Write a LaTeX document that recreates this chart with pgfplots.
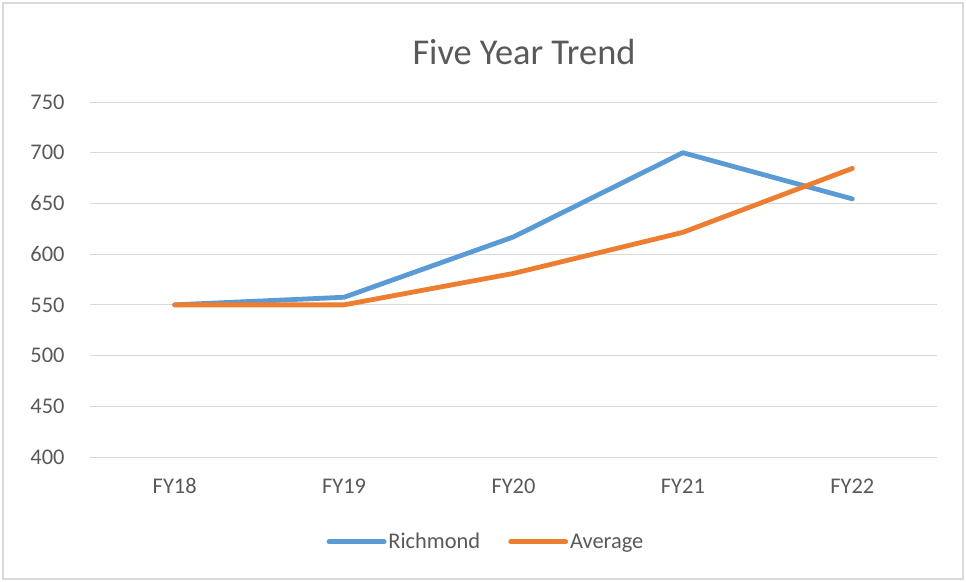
\documentclass[border=0pt]{standalone}
\usepackage{pgfplots}
\pgfplotsset{compat=1.18}
\usepackage{fontspec}
\setmainfont{Carlito}
\definecolor{txt}{HTML}{595959}
\definecolor{gridc}{HTML}{D9D9D9}
\definecolor{rich}{HTML}{5B9BD5}
\definecolor{avg}{HTML}{ED7D31}
\begin{document}
\begin{tikzpicture}
\useasboundingbox (-90bp,-125bp) rectangle (876bp,457bp);
\draw[gridc, line width=1.5bp] (-87bp,-122bp) rectangle (873bp,454bp);
\begin{axis}[
  at={(0,0)}, anchor=south west,
  scale only axis,
  width=847bp, height=355bp,
  xmin=-0.5, xmax=4.5,
  ymin=400, ymax=750,
  ytick={400,450,...,750},
  xtick={0,1,2,3,4},
  xticklabels={FY18,FY19,FY20,FY21,FY22},
  axis line style={draw=none},
  major tick length=0pt,
  xmajorgrids=false,
  ymajorgrids=true,
  grid style={draw=gridc, line width=1bp},
  tick label style={font=\fontsize{22.5}{26}\selectfont, text=txt},
  /pgf/number format/assume math mode=true,
  yticklabel style={xshift=-22bp},
  xticklabel style={yshift=-18bp},
  legend style={at={(0.4675,-0.2386)}, anchor=center, draw=none,
    font=\fontsize{22.5}{26}\selectfont, text=txt,
    legend columns=2, /tikz/every even column/.append style={column sep=26bp}},
  legend image code/.code={\draw[#1, line cap=round] (0bp,0bp) -- (55bp,0bp);},
  clip=false,
]
\addplot[rich, line width=4.8bp, line join=round, line cap=round] coordinates {(0,550) (1,557.5) (2,617) (3,700) (4,654.5)};
\addlegendentry{Richmond}
\addplot[avg, line width=4.8bp, line join=round, line cap=round] coordinates {(0,550) (1,550) (2,581) (3,621.5) (4,684.5)};
\addlegendentry{Average}
\end{axis}
\node[anchor=base, text=txt, font=\fontsize{36.5}{42}\selectfont] at (434bp,392bp) {Five Year Trend};
\end{tikzpicture}
\end{document}
